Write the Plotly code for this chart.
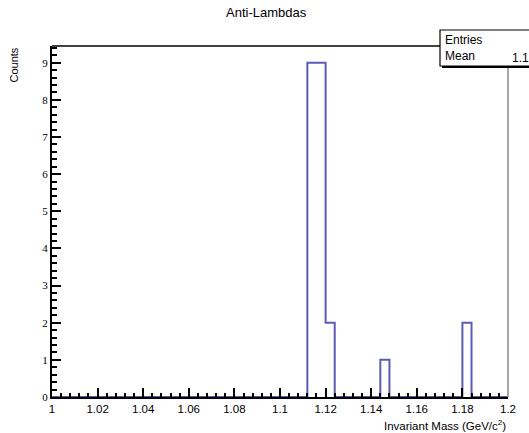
import plotly.graph_objects as go

# Histogram: 50 bins from 1.0 to 1.2 (width 0.004)
bin_edges = [round(1.0 + 0.004 * i, 3) for i in range(51)]
counts = [0, 0, 0, 0, 0, 0, 0, 0, 0, 0,
          0, 0, 0, 0, 0, 0, 0, 0, 0, 0,
          0, 0, 0, 0, 0, 0, 0, 0, 9, 9,
          2, 0, 0, 0, 0, 0, 1, 0, 0, 0,
          0, 0, 0, 0, 0, 2, 0, 0, 0, 0]
x_ticks = [1.0, 1.02, 1.04, 1.06, 1.08, 1.1, 1.12, 1.14, 1.16, 1.18, 1.2]
x_tick_labels = ["1", "1.02", "1.04", "1.06", "1.08", "1.1", "1.12", "1.14", "1.16", "1.18", "1.2"]
y_ticks = [0, 1, 2, 3, 4, 5, 6, 7, 8, 9]
entries = 23
mean_val = 1.124

W, H = 529, 433
L, R, T, B = 52, 21, 46, 36
pw, ph = W - L - R, H - T - B

def px(x):
    return (x - L) / pw

def py(y):
    return (H - B - y) / ph

step_y = counts + [counts[-1]]

fig = go.Figure()
fig.add_trace(go.Scatter(x=bin_edges, y=step_y, mode="lines", line_shape="hv",
                         line=dict(color="#5c5cb4", width=2), hoverinfo="skip",
                         showlegend=False))

fig.update_layout(
    width=W, height=H,
    margin=dict(l=L, r=R, t=T, b=B),
    paper_bgcolor="white", plot_bgcolor="white",
    font=dict(family="Liberation Sans, Arial, sans-serif", color="black"),
    showlegend=False,
)
fig.update_xaxes(range=[1.0, 1.2], tickvals=x_ticks, ticktext=x_tick_labels,
                 ticks="inside", ticklen=9, tickwidth=2, tickcolor="black",
                 showline=True, linecolor="black", linewidth=2,
                 showgrid=False, zeroline=False, tickfont=dict(size=11.5),
                 ticklabelstandoff=0,
                 minor=dict(dtick=0.004, ticks="inside", ticklen=4, tickwidth=2,
                            tickcolor="black", showgrid=False))
fig.update_yaxes(range=[0, 9.45], tickvals=y_ticks,
                 ticks="inside", ticklen=9, tickwidth=2, tickcolor="black",
                 showline=True, linecolor="black", linewidth=2,
                 showgrid=False, zeroline=False,
                 tickfont=dict(size=11, family="Liberation Serif, serif"),
                 minor=dict(dtick=0.2, ticks="inside", ticklen=5, tickwidth=2,
                            tickcolor="black", showgrid=False))

shapes = []
# top frame line
shapes.append(dict(type="line", xref="paper", yref="paper", x0=0, x1=1, y0=1, y1=1,
                   line=dict(color="black", width=1.5)))
# right frame line
shapes.append(dict(type="line", xref="paper", yref="paper", x0=1, x1=1, y0=0, y1=1,
                   line=dict(color="#8a8a8a", width=1.5)))
# stats box shadow and box
shapes.append(dict(type="rect", xref="paper", yref="paper",
                   x0=px(442), x1=px(560), y0=py(68), y1=py(32),
                   fillcolor="black", line=dict(width=0)))
shapes.append(dict(type="rect", xref="paper", yref="paper",
                   x0=px(440), x1=px(558), y0=py(66), y1=py(30),
                   fillcolor="white", line=dict(color="black", width=1.2)))
fig.update_layout(shapes=shapes)

ann = []
ann.append(dict(text="Anti-Lambdas", xref="paper", yref="paper", x=px(266), y=py(12),
                xanchor="center", yanchor="middle", showarrow=False, font=dict(size=13)))
ann.append(dict(text="Invariant Mass (GeV/c<sup>2</sup>)", xref="paper", yref="paper",
                x=1, y=py(434), xanchor="right", yanchor="bottom", showarrow=False,
                font=dict(size=11.5)))
ann.append(dict(text="Counts", xref="paper", yref="paper", x=px(13), y=1.0,
                xanchor="center", yanchor="top", textangle=-90, showarrow=False,
                font=dict(size=11)))
ann.append(dict(text="Entries", xref="paper", yref="paper", x=px(443), y=py(40),
                xanchor="left", yanchor="middle", showarrow=False, font=dict(size=12)))
ann.append(dict(text="Mean", xref="paper", yref="paper", x=px(443), y=py(56),
                xanchor="left", yanchor="middle", showarrow=False, font=dict(size=12)))
ann.append(dict(text=str(entries), xref="paper", yref="paper", x=px(552), y=py(40),
                xanchor="right", yanchor="middle", showarrow=False, font=dict(size=12)))
ann.append(dict(text=f"{mean_val:.3f}", xref="paper", yref="paper", x=px(510), y=py(58),
                xanchor="left", yanchor="middle", showarrow=False, font=dict(size=12)))
fig.update_layout(annotations=ann)

fig.write_html("out.html")
